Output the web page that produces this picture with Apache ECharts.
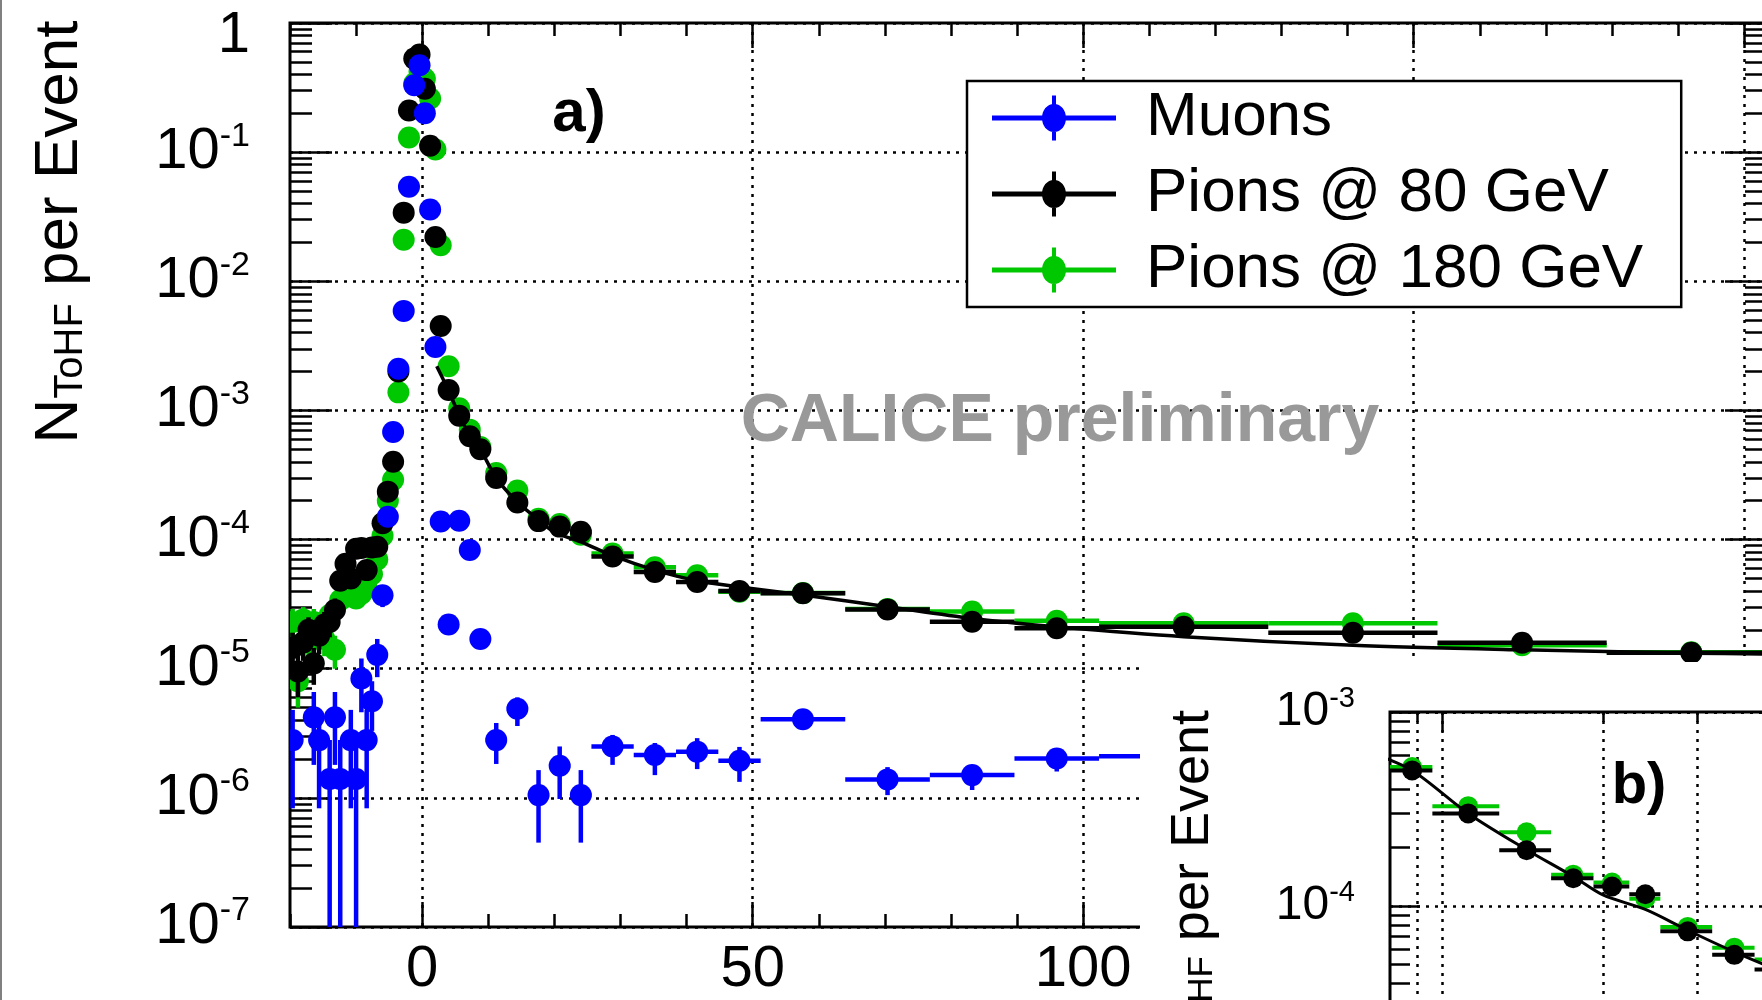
<!DOCTYPE html>
<html>
<head>
<meta charset="utf-8">
<script src="https://cdn.jsdelivr.net/npm/echarts@6/dist/echarts.min.js"></script>
<style>
html, body { margin: 0; padding: 0; background: #fff; }
#chart { width: 1762px; height: 1000px; }
</style>
</head>
<body>
<div id="chart"></div>
<script>
// bin edges of the time axis (ns)
var binEdges = [-20, -19.2, -18.4, -17.6, -16.8, -16, -15.2, -14.4, -13.6, -12.8, -12, -11.2, -10.4, -9.6, -8.8,
  -8, -7.2, -6.4, -5.6, -4.8, -4, -3.2, -2.4, -1.6, -0.8, 0, 0.8, 1.6, 2.4, 3.2,
  4.8, 6.4, 8.0, 9.6, 12.8, 16.0, 19.2, 22.4, 25.6, 32.0, 38.4, 44.8, 51.2, 64.0, 76.8, 89.6, 102.4,
  128.0, 153.6, 179.2, 204.8];

// N_ToHF per event, one value per bin (null = empty bin)
var muons = [2.8e-6, null, null, null, 4.2e-6, 2.8e-6, null, 1.4e-6, 4.2e-6, 1.4e-6,
  null, 2.8e-6, 1.4e-6, 8.4e-6, 2.8e-6, 5.6e-6, 1.28e-5, 3.7e-5, 1.5e-4, 6.8e-4,
  2.1e-3, 5.9e-3, 0.054, 0.33, 0.47, 0.20, 0.036, 3.1e-3, 1.38e-4, 2.2e-5,
  1.4e-4, 8.3e-5, 1.7e-5, 2.8e-6, 4.9e-6, 1.05e-6, 1.77e-6, 1.05e-6, 2.5e-6, 2.15e-6,
  2.28e-6, 1.94e-6, 4.06e-6, 1.39e-6, 1.5e-6, 2.02e-6, 2.1e-6, null, null, null];
var muonsLo = [8.3e-7, null, null, null, 1.8e-6, 8.3e-7, null, 0, 1.8e-6, 0,
  null, 8.3e-7, 0, 4.6e-6, 8.3e-7, 3.3e-6, 8.6e-6, 3.0e-5, null, null,
  null, null, null, null, null, null, null, null, null, null,
  null, null, null, 1.83e-6, 3.6e-6, 4.5e-7, 9.8e-7, 4.5e-7, 1.8e-6, 1.5e-6,
  1.67e-6, 1.33e-6, 3.6e-6, 1.05e-6, 1.15e-6, 1.6e-6, 1.5e-6];
var muonsHi = [4.8e-6, null, null, null, 6.6e-6, 4.8e-6, null, 2.8e-6, 6.6e-6, 2.8e-6,
  null, 4.8e-6, 2.8e-6, 1.2e-5, 4.8e-6, 8.0e-6, 1.7e-5, 4.4e-5, null, null,
  null, null, null, null, null, null, null, null, null, null,
  null, null, null, 3.8e-6, 6.0e-6, 1.64e-6, 2.5e-6, 1.64e-6, 3.07e-6, 2.66e-6,
  2.9e-6, 2.48e-6, 4.6e-6, 1.73e-6, 1.77e-6, 2.4e-6, 2.8e-6];

var pions80 = [1.45e-5, 9.5e-6, 1.6e-5, 2.0e-5, 1.1e-5, 1.8e-5, 2.2e-5, 2.3e-5, 2.85e-5, 4.8e-5,
  6.5e-5, 5.0e-5, 8.5e-5, 8.6e-5, 5.8e-5, 8.7e-5, 8.8e-5, 1.34e-4, 2.35e-4, 4.0e-4,
  2.0e-3, 0.034, 0.21, 0.53, 0.57, 0.31, 0.112, 0.022, 4.5e-3, 1.44e-3,
  9.1e-4, 6.3e-4, 5.0e-4, 3.0e-4, 1.94e-4, 1.39e-4, 1.26e-4, 1.15e-4, 7.4e-5, 5.6e-5,
  4.7e-5, 4.0e-5, 3.84e-5, 2.88e-5, 2.31e-5, 2.06e-5, 2.11e-5, 1.9e-5, 1.59e-5, 1.33e-5];
var pions80Lo = [1.0e-5, 6.0e-6, 1.15e-5, 1.5e-5, 7.5e-6, 1.3e-5, 1.65e-5, 1.75e-5, 2.2e-5, 4.0e-5,
  5.5e-5, 4.2e-5, 7.4e-5, 7.5e-5, 4.9e-5, 7.6e-5, 7.7e-5];
var pions80Hi = [1.9e-5, 1.3e-5, 2.05e-5, 2.5e-5, 1.45e-5, 2.3e-5, 2.75e-5, 2.85e-5, 3.5e-5, 5.6e-5,
  7.5e-5, 5.8e-5, 9.6e-5, 9.7e-5, 6.7e-5, 9.8e-5, 9.9e-5];

var pions180 = [2.3e-5, 8.0e-6, 2.4e-5, 1.6e-5, 2.3e-5, 2.0e-5, 1.7e-5, 2.6e-5, 1.4e-5, 3.4e-5,
  3.6e-5, 3.9e-5, 3.5e-5, 3.8e-5, 4.2e-5, 5.4e-5, 7.0e-5, 1.07e-4, 2.0e-4, 2.9e-4,
  1.38e-3, 0.021, 0.13, 0.34, 0.42, 0.37, 0.26, 0.105, 0.019, 2.2e-3,
  1.04e-3, 7.1e-4, 5.2e-4, 3.27e-4, 2.4e-4, 1.45e-4, 1.32e-4, 1.09e-4, 7.8e-5, 6.1e-5,
  5.3e-5, 3.95e-5, 3.85e-5, 2.9e-5, 2.77e-5, 2.35e-5, 2.25e-5, 2.25e-5, 1.52e-5, 1.34e-5];
var pions180Lo = [1.75e-5, 5.0e-6, 1.85e-5, 1.15e-5, 1.75e-5, 1.5e-5, 1.25e-5, 2.0e-5, 1.0e-5, 2.8e-5,
  3.0e-5, 3.3e-5, 2.9e-5, 3.2e-5, 3.6e-5, 4.7e-5, 6.2e-5];
var pions180Hi = [2.9e-5, 1.1e-5, 3.0e-5, 2.1e-5, 2.9e-5, 2.5e-5, 2.2e-5, 3.2e-5, 1.8e-5, 4.0e-5,
  4.2e-5, 4.5e-5, 4.1e-5, 4.4e-5, 4.8e-5, 6.1e-5, 7.8e-5];

// fit to the 80 GeV pion tail
var fitX = [2.2, 4.0, 5.6, 7.2, 8.8, 11.2, 14.4, 17.6, 20.0, 24.0, 28.8, 35.2, 41.6, 48.0, 57.6,
  70.4, 83.2, 96.0, 115.2, 140.8, 166.4, 192.0, 203.5];
var fitY = [2.2e-3, 1.42e-3, 9.2e-4, 6.4e-4, 5.0e-4, 3.0e-4, 1.95e-4, 1.42e-4, 1.14e-4, 9.6e-5, 7.5e-5, 5.8e-5, 4.8e-5, 4.3e-5, 3.72e-5,
  3.02e-5, 2.45e-5, 2.11e-5, 1.77e-5, 1.52e-5, 1.40e-5, 1.32e-5, 1.30e-5];

var xMajor = [0, 50, 100, 150, 200];
var insetGridX = [9, 10, 20, 30, 40];
var insetMajorX = [10];
var minorMult = [2, 3, 4, 5, 6, 7, 8, 9];

var C_MU = '#0000ff', C_PI80 = '#000000', C_PI180 = '#00c800';
var FONT = 'Liberation Sans';
var ICON = 'path://M0 20 L124 20 L124 25 L0 25 Z M60 0 L64 0 L64 45 L60 45 Z M62 8.5 C69 8.5 74 14.8 74 22.5 C74 30.2 69 36.5 62 36.5 C55 36.5 50 30.2 50 22.5 C50 14.8 55 8.5 62 8.5 Z';

function logMinor(lo, hi) {
    var out = [];
    for (var e = lo; e < hi; e++) {
        minorMult.forEach(function (m) { out.push(e + Math.log10(m)); });
    }
    return out;
}

function makeItems(vals, lo, hi) {
    var out = [];
    for (var i = 0; i < vals.length; i++) {
        if (vals[i] == null) continue;
        var c = (binEdges[i] + binEdges[i + 1]) / 2;
        out.push([c, vals[i], binEdges[i], binEdges[i + 1],
            lo[i] == null ? NaN : lo[i], hi[i] == null ? NaN : hi[i]]);
    }
    return out;
}

function errorBars(color, r, lw, floor) {
    return function (params, api) {
        var y = api.value(1);
        var p = api.coord([api.value(0), y]);
        var a = api.coord([api.value(2), y]);
        var b = api.coord([api.value(3), y]);
        var kids = [{ type: 'line', shape: { x1: a[0], y1: p[1], x2: b[0], y2: p[1] }, style: { stroke: color, lineWidth: lw } }];
        var lo = api.value(4), hi = api.value(5);
        if (!isNaN(lo) && !isNaN(hi)) {
            var q1 = api.coord([api.value(0), Math.max(lo, floor)]);
            var q2 = api.coord([api.value(0), hi]);
            kids.push({ type: 'line', shape: { x1: p[0], y1: q1[1], x2: p[0], y2: q2[1] }, style: { stroke: color, lineWidth: lw } });
        }
        kids.push({ type: 'circle', shape: { cx: p[0], cy: p[1], r: r }, style: { fill: color } });
        return { type: 'group', children: kids };
    };
}

function pointSeries(name, vals, lo, hi, color, xi, yi, z, r, lw, floor) {
    return {
        type: 'custom', name: name, xAxisIndex: xi, yAxisIndex: yi, z: z, clip: true, silent: true,
        data: makeItems(vals, lo, hi),
        dimensions: ['x', 'y', 'xl', 'xh', 'el', 'eh'],
        encode: { x: 0, y: 1 },
        itemStyle: { color: color },
        renderItem: errorBars(color, r, lw, floor)
    };
}

function fitSeries(xi, yi, z, w) {
    var pts = fitX.map(function (x, i) { return [x, fitY[i]]; });
    return {
        type: 'line', name: 'fit', xAxisIndex: xi, yAxisIndex: yi, z: z, clip: true, silent: true,
        data: pts, showSymbol: false, smooth: 0.3,
        lineStyle: { color: '#000', width: w }
    };
}

function expLabel(v) {
    var e = Math.round(Math.log10(v));
    return e === 0 ? '{one|1}' : '{b|10}{s|' + e + '}';
}

var tickStyle = { color: '#000', width: 2.5 };
var dotted = { color: '#000', width: 2.5, type: [3, 6] };
var noLine = { show: false, onZero: false };
var xMax = 203.45;

var myChart = echarts.init(document.getElementById('chart'));

var option = {
    animation: false,
    backgroundColor: '#fff',
    textStyle: { fontFamily: FONT },
    grid: [
        { left: 290, top: 23, right: -5, bottom: 73, show: true, borderColor: '#000', borderWidth: 3, z: 0,
          outerBoundsMode: 'none', containLabel: false },
        { left: 1390, top: 712, right: -215, bottom: -100, show: true, borderColor: '#000', borderWidth: 3, z: 20,
          outerBoundsMode: 'none', containLabel: false }
    ],
    xAxis: [
        { type: 'value', gridIndex: 0, position: 'bottom', min: -20, max: xMax, interval: 10,
          axisLine: noLine, splitLine: { show: false }, axisLabel: { show: false },
          axisTick: { inside: true, length: 13, lineStyle: tickStyle } },
        { type: 'value', gridIndex: 0, position: 'bottom', min: -20, max: xMax,
          axisLine: noLine,
          axisTick: { inside: true, length: 25, customValues: xMajor, lineStyle: tickStyle },
          axisLabel: { customValues: xMajor, fontSize: 58, color: '#000', margin: 14, fontFamily: FONT },
          splitLine: { show: true, lineStyle: dotted } },
        { type: 'value', gridIndex: 0, position: 'top', min: -20, max: xMax, interval: 10,
          axisLine: noLine, splitLine: { show: false }, axisLabel: { show: false },
          axisTick: { inside: true, length: 13, lineStyle: tickStyle } },
        { type: 'value', gridIndex: 0, position: 'top', min: -20, max: xMax,
          axisLine: noLine, splitLine: { show: false }, axisLabel: { show: false },
          axisTick: { inside: true, length: 25, customValues: xMajor, lineStyle: tickStyle } },
        // inset
        { type: 'log', gridIndex: 1, min: 8, max: 100, show: false, z: 21, axisLine: noLine },
        { type: 'value', gridIndex: 1, position: 'top', min: Math.log10(8), max: 2, z: 21,
          axisLine: noLine, axisLabel: { show: false },
          axisTick: { inside: true, length: 10, customValues: insetGridX.map(Math.log10), lineStyle: tickStyle },
          splitLine: { show: true, lineStyle: dotted } },
        { type: 'value', gridIndex: 1, position: 'top', min: Math.log10(8), max: 2, z: 21,
          axisLine: noLine, axisLabel: { show: false }, splitLine: { show: false },
          axisTick: { inside: true, length: 20, customValues: insetMajorX.map(Math.log10), lineStyle: tickStyle } }
    ],
    yAxis: [
        { type: 'log', gridIndex: 0, position: 'left', min: 1e-7, max: 1, splitNumber: 7,
          axisLine: noLine,
          axisTick: { inside: true, length: 42, lineStyle: tickStyle },
          splitLine: { show: true, lineStyle: dotted },
          axisLabel: { margin: 40, formatter: expLabel,
            rich: {
              b: { fontSize: 58, lineHeight: 66, fontFamily: FONT, color: '#000' },
              s: { fontSize: 34, lineHeight: 34, verticalAlign: 'top', fontFamily: FONT, color: '#000' },
              one: { fontSize: 58, lineHeight: 66, padding: [26, 0, 0, 0], fontFamily: FONT, color: '#000' }
            } } },
        { type: 'value', gridIndex: 0, position: 'left', min: -7, max: 0,
          axisLine: noLine, splitLine: { show: false }, axisLabel: { show: false },
          axisTick: { inside: true, length: 22, customValues: logMinor(-7, 0), lineStyle: tickStyle } },
        { type: 'log', gridIndex: 0, position: 'right', min: 1e-7, max: 1, splitNumber: 7,
          axisLine: noLine, splitLine: { show: false }, axisLabel: { show: false },
          axisTick: { inside: true, length: 42, lineStyle: tickStyle } },
        { type: 'value', gridIndex: 0, position: 'right', min: -7, max: 0,
          axisLine: noLine, splitLine: { show: false }, axisLabel: { show: false },
          axisTick: { inside: true, length: 22, customValues: logMinor(-7, 0), lineStyle: tickStyle } },
        // inset
        { type: 'log', gridIndex: 1, position: 'left', min: 1e-5, max: 1e-3, z: 21,
          axisLine: noLine,
          axisTick: { inside: true, length: 30, lineStyle: tickStyle },
          splitLine: { show: true, lineStyle: dotted },
          axisLabel: { margin: 35, formatter: expLabel,
            rich: {
              b: { fontSize: 48, lineHeight: 56, fontFamily: FONT, color: '#000' },
              s: { fontSize: 29, lineHeight: 29, verticalAlign: 'top', fontFamily: FONT, color: '#000' },
              one: { fontSize: 48, fontFamily: FONT, color: '#000' }
            } } },
        { type: 'value', gridIndex: 1, position: 'left', min: -5, max: -3, z: 21,
          axisLine: noLine, splitLine: { show: false }, axisLabel: { show: false },
          axisTick: { inside: true, length: 20, customValues: logMinor(-5, -3), lineStyle: tickStyle } }
    ],
    legend: {
        data: [{ name: 'Muons', icon: ICON }, { name: 'Pions @ 80 GeV', icon: ICON }, { name: 'Pions @ 180 GeV', icon: ICON }],
        orient: 'vertical', left: 967, top: 81,
        itemWidth: 124, itemHeight: 45, itemGap: 14,
        padding: [6, 38, 6, 25],
        backgroundColor: '#fff', borderColor: '#000', borderWidth: 2.5, borderRadius: 0,
        selectedMode: false,
        itemStyle: { borderWidth: 0 },
        textStyle: { fontSize: 62, lineHeight: 62, color: '#000', fontFamily: FONT, padding: [0, 0, 0, 25] }
    },
    graphic: [
        { type: 'rect', z: 10, shape: { x: 1140, y: 662, width: 640, height: 360 }, style: { fill: '#fff' } },
        { type: 'line', z: 30, shape: { x1: 1, y1: 0, x2: 1, y2: 1000 }, style: { stroke: '#808080', lineWidth: 2 } },
        { type: 'text', z: 5, x: 60, y: 232, rotation: Math.PI / 2,
          style: { text: '{n|N}{sub|ToHF}{n| per Event}', align: 'center', verticalAlign: 'middle', fill: '#000',
            rich: { n: { fontSize: 62, lineHeight: 62, fontFamily: FONT, fill: '#000' },
                    sub: { fontSize: 40, lineHeight: 40, verticalAlign: 'bottom', fontFamily: FONT, fill: '#000' } } } },
        { type: 'text', z: 5, x: 579, y: 114,
          style: { text: 'a)', font: 'bold 60px "Liberation Sans"', align: 'center', verticalAlign: 'middle', fill: '#000' } },
        { type: 'text', z: 5, x: 1060, y: 422,
          style: { text: 'CALICE preliminary', font: 'bold 68px "Liberation Sans"', align: 'center', verticalAlign: 'middle', fill: '#999999' } },
        { type: 'text', z: 30, x: 1193, y: 710, rotation: Math.PI / 2,
          style: { text: '{n|N}{sub|ToHF}{n| per Event}', align: 'right', verticalAlign: 'middle', fill: '#000',
            rich: { n: { fontSize: 54, lineHeight: 54, fontFamily: FONT, fill: '#000' },
                    sub: { fontSize: 35, lineHeight: 35, verticalAlign: 'bottom', fontFamily: FONT, fill: '#000' } } } },
        { type: 'text', z: 30, x: 1639, y: 787,
          style: { text: 'b)', font: 'bold 58px "Liberation Sans"', align: 'center', verticalAlign: 'middle', fill: '#000' } }
    ],
    series: [
        pointSeries('Pions @ 180 GeV', pions180, pions180Lo, pions180Hi, C_PI180, 0, 0, 2, 11, 4.5, 1e-7),
        pointSeries('Pions @ 80 GeV', pions80, pions80Lo, pions80Hi, C_PI80, 0, 0, 3, 11, 4.5, 1e-7),
        fitSeries(0, 0, 3, 3.5),
        pointSeries('Muons', muons, muonsLo, muonsHi, C_MU, 0, 0, 4, 11, 4.5, 1e-7),
        // inset b)
        pointSeries('Pions @ 180 GeV', pions180, pions180Lo, pions180Hi, C_PI180, 4, 4, 22, 10, 4, 1e-5),
        pointSeries('Pions @ 80 GeV', pions80, pions80Lo, pions80Hi, C_PI80, 4, 4, 23, 10, 4, 1e-5),
        fitSeries(4, 4, 23, 3),
        pointSeries('Muons', muons, muonsLo, muonsHi, C_MU, 4, 4, 24, 10, 4, 1e-5)
    ]
};

myChart.setOption(option);
</script>
</body>
</html>
